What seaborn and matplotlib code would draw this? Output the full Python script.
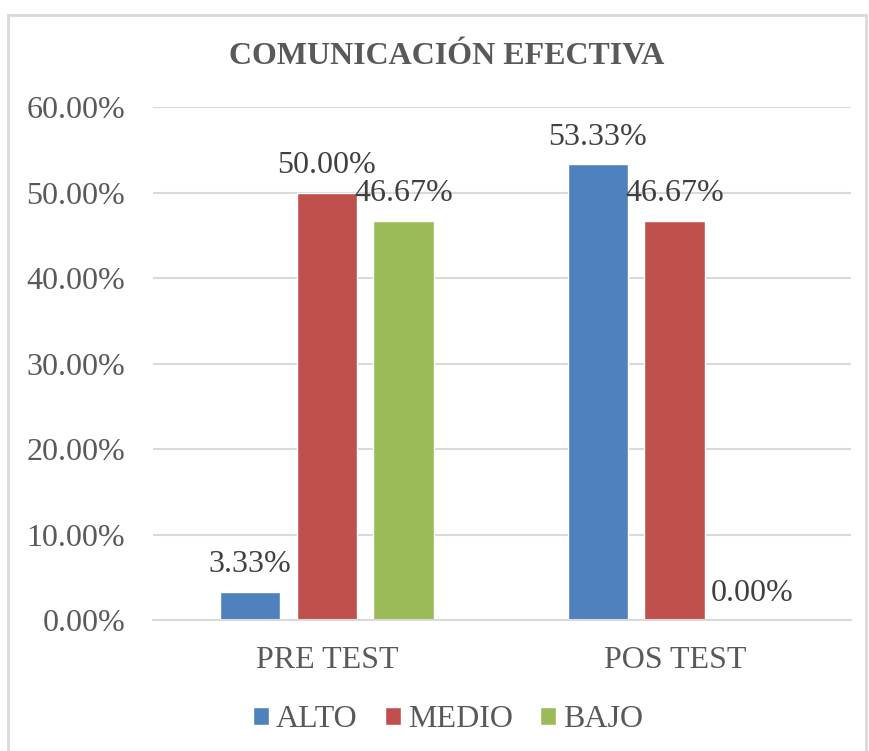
import matplotlib
matplotlib.use("Agg")
import matplotlib.pyplot as plt
import seaborn as sns
import pandas as pd
from matplotlib.patches import Rectangle

# data
momentos = ['PRE TEST', 'POS TEST']
niveles = ['ALTO', 'MEDIO', 'BAJO']
alto = [3.33, 53.33]
medio = [50.00, 46.67]
bajo = [46.67, 0.00]
y_ticks = [0, 10, 20, 30, 40, 50, 60]
colores = ['#4F81BD', '#C0504D', '#9BBB59']

df = pd.DataFrame({
    'momento': momentos * 3,
    'nivel': [n for n in niveles for _ in momentos],
    'valor': alto + medio + bajo,
})

sns.set_theme(style='white')
plt.rcParams['font.family'] = ['Liberation Serif', 'DejaVu Serif']

gris = '#595959'
fig = plt.figure(figsize=(8.7, 7.51), dpi=100)
ax = fig.add_axes([0.1759, 0.1744, 0.8021, 0.6831])

sns.barplot(data=df, x='momento', y='valor', hue='nivel', hue_order=niveles,
            order=momentos, palette=colores, width=0.663, gap=0.21,
            saturation=1, ax=ax, legend=True)

for cont in ax.containers:
    ax.bar_label(cont, fmt='{:.2f}%', padding=9, fontsize=23, color='#404040')

ax.set_ylim(0, 60)
ax.set_xlim(-0.5, 1.506)
ax.set_yticks(y_ticks)
ax.set_yticklabels([f'{v:.2f}%' for v in y_ticks])
ax.tick_params(axis='y', labelsize=23, labelcolor=gris, pad=20, length=0)
ax.tick_params(axis='x', labelsize=23, labelcolor=gris, pad=19, length=0)
ax.set_xlabel('')
ax.set_ylabel('')
ax.grid(True, axis='y', color='#D9D9D9', linewidth=1.5)
ax.set_axisbelow(True)
for s in ['top', 'right', 'left']:
    ax.spines[s].set_visible(False)
ax.spines['bottom'].set_color('#D9D9D9')
ax.spines['bottom'].set_linewidth(1.5)

ax.legend_.remove()
handles, labels = ax.get_legend_handles_labels()
fig.legend(handles, labels, loc='center', bbox_to_anchor=(0.515, 0.042), ncol=3,
           frameon=False, fontsize=23, handlelength=0.5, handleheight=0.5,
           handletextpad=0.22, columnspacing=0.85, labelcolor=gris)

fig.text(0.513, 0.925, 'COMUNICACIÓN EFECTIVA', ha='center', va='center',
         fontsize=23, fontweight='bold', color=gris)

fig.patches.append(Rectangle((8 / 870, -0.02), 858 / 870, 1.02 - 15 / 751,
                             transform=fig.transFigure, fill=False,
                             edgecolor='#D9D9D9', linewidth=2))

fig.savefig('out.png', dpi=100)
